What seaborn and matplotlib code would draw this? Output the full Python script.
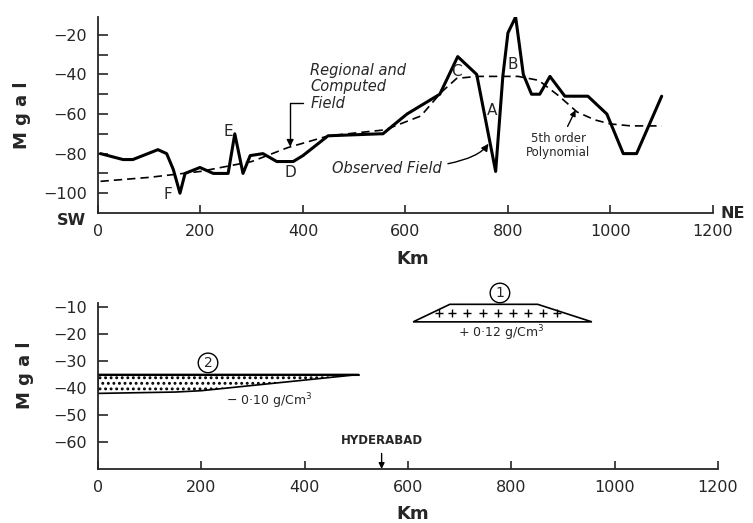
import numpy as np
import pandas as pd
import seaborn as sns
import matplotlib.pyplot as plt

# profile SW -> NE, distance in km, gravity in mGal
obs_km = [5, 49, 68, 117, 134, 147, 160, 170, 199, 225, 254, 267, 283, 297, 322, 349,
          381, 400, 449, 550, 556, 603, 667, 702, 739, 776, 790, 800, 815, 830, 846,
          862, 882, 911, 956, 993, 1025, 1051, 1100]
obs_mgal = [-80, -83, -83, -78, -80, -88, -100, -90, -87, -90, -90, -70, -90, -81, -80, -84,
            -84, -81, -71, -70, -70, -60, -50, -31, -40, -89, -41, -19, -11, -40, -50,
            -50, -41, -51, -51, -60, -80, -80, -51]

reg_km = [5, 100, 200, 300, 370, 450, 560, 630, 670, 700, 740, 820, 860, 900, 935, 970,
          1000, 1040, 1100]
reg_mgal = [-94, -92, -89, -84, -77, -71, -68, -61, -49, -42, -41, -41, -43, -51, -59, -63,
            -65, -66, -66]

# anomaly letters
lab_txt = ['A', 'B', 'C', 'D', 'E', 'F']
lab_km = [769, 810, 700, 375, 254, 137]
lab_mgal = [-58, -35, -38.5, -89.5, -69, -100.5]

# model body 1 (+0.12 g/cm3) and body 2 (-0.10 g/cm3)
body1_km = [610, 681, 851, 956]
body1_mgal = [-15.5, -9, -9, -15.5]
plus_km = [661, 685, 714, 745, 774, 803, 832, 861, 888]
plus_mgal = [-12.2] * 9

body2_top_km = [0, 505]
body2_top_mgal = [-35, -35]
body2_bot_km = [0, 150, 200, 505]
body2_bot_mgal = [-42, -41.5, -41, -35]

top_yticks = [-100, -80, -60, -40, -20]
top_yminor = [-90, -70, -50, -30]
bot_yticks = [-60, -50, -40, -30, -20, -10]
xticks = [0, 200, 400, 600, 800, 1000, 1200]

sns.set_style("ticks")
plt.rcParams['font.family'] = ['DejaVu Sans']
plt.rcParams['hatch.linewidth'] = 1.3

fig = plt.figure(figsize=(7.53, 5.23), dpi=100)
ax1 = fig.add_axes([0.1301, 0.5927, 0.8167, 0.3748])
ax2 = fig.add_axes([0.1301, 0.1033, 0.8234, 0.3174])

for ax in (ax1, ax2):
    sns.despine(ax=ax)
    ax.spines['left'].set_linewidth(1.3)
    ax.spines['bottom'].set_linewidth(1.3)
    ax.set_xlim(0, 1200)
    ax.set_xticks(xticks)
    ax.set_xticklabels([str(t) for t in xticks])
    ax.tick_params(axis='x', direction='in', length=6, width=1.2, pad=8, labelsize=11.5)
    ax.tick_params(axis='y', which='both', direction='in', length=7, width=1.2, pad=8,
                   labelsize=11.5)
    ax.set_xlabel('Km', fontsize=13, fontweight='bold')
    ax.set_ylabel('M g a l', fontsize=13, fontweight='bold')

# ---- top panel
ax1.set_ylim(-110, -11)
ax1.set_yticks(top_yticks)
ax1.set_yticks(top_yminor, minor=True)
sns.lineplot(x=reg_km, y=reg_mgal, ax=ax1, color='black', lw=1.2, linestyle=(0, (5, 3)),
             estimator=None)
sns.lineplot(x=obs_km, y=obs_mgal, ax=ax1, color='black', lw=2.2, estimator=None)
for t, xk, yk in zip(lab_txt, lab_km, lab_mgal):
    ax1.text(xk, yk, t, fontsize=11, ha='center', va='center')

ax1.text(414, -34, 'Regional and\nComputed\nField', fontsize=10.5, style='italic',
         ha='left', va='top', linespacing=1.15)
ax1.annotate('', xy=(375, -76.5), xytext=(400, -54.3),
             arrowprops=dict(arrowstyle='-|>', color='black', lw=1, shrinkA=0, shrinkB=0,
                             connectionstyle='angle,angleA=180,angleB=90,rad=0'))
ax1.annotate('Observed Field', xy=(762, -75), xytext=(457, -87.5), fontsize=10.5,
             style='italic', ha='left', va='center',
             arrowprops=dict(arrowstyle='-|>', color='black', lw=1, shrinkB=0,
                             connectionstyle='angle3,angleA=0,angleB=55'))
ax1.annotate('5th order\nPolynomial', xy=(932, -58), xytext=(898, -76), fontsize=8.5,
             ha='center', va='center', linespacing=1.1,
             arrowprops=dict(arrowstyle='-|>', color='black', lw=1, shrinkB=0))
ax1.text(-0.02, -0.036, 'SW', transform=ax1.transAxes, fontsize=11.5, fontweight='bold',
         ha='right', va='center')
ax1.text(1.013, 0.0, 'NE', transform=ax1.transAxes, fontsize=11.5, fontweight='bold',
         ha='left', va='center')
ax1.yaxis.set_label_coords(-0.109, 0.5)
ax1.xaxis.set_label_coords(0.512, -0.19)

# ---- bottom panel
ax2.set_ylim(-70, -8.5)
ax2.set_yticks(bot_yticks)
ax2.fill(body1_km, body1_mgal, facecolor='white', edgecolor='black', lw=1.2)
sns.scatterplot(x=plus_km, y=plus_mgal, ax=ax2, marker='+', s=30, color='black',
                linewidth=1.0)
ax2.fill(body2_bot_km + body2_top_km[::-1], body2_bot_mgal + body2_top_mgal[::-1],
         facecolor='white', edgecolor='black', hatch='...', lw=1.2)
sns.lineplot(x=body2_top_km, y=body2_top_mgal, ax=ax2, color='black', lw=1.5,
             estimator=None)

ax2.text(778, -4.8, '1', fontsize=10, ha='center', va='center',
         bbox=dict(boxstyle='circle,pad=0.2', fc='white', ec='black', lw=1))
ax2.text(780, -19.8, '+ 0·12 g/Cm$^3$', fontsize=9, ha='center', va='center')
ax2.text(213, -30.7, '2', fontsize=10, ha='center', va='center',
         bbox=dict(boxstyle='circle,pad=0.2', fc='white', ec='black', lw=1))
ax2.text(332, -44.8, '− 0·10 g/Cm$^3$', fontsize=9, ha='center', va='center')
ax2.annotate('HYDERABAD', xy=(549, -70), xytext=(549, -59.6), fontsize=8.5,
             fontweight='bold', ha='center', va='center',
             arrowprops=dict(arrowstyle='-|>', color='black', lw=1, shrinkB=0))
ax2.yaxis.set_label_coords(-0.103, 0.566)
ax2.xaxis.set_label_coords(0.508, -0.22)

fig.savefig('out.png', dpi=100)
